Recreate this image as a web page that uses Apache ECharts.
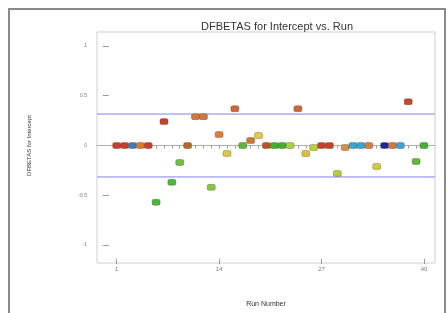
<!DOCTYPE html>
<html>
<head>
<meta charset="UTF-8">
<title>DFBETAS for Intercept vs. Run</title>
<script src="https://cdn.jsdelivr.net/npm/echarts@6/dist/echarts.min.js"></script>
<style>
  html, body { margin: 0; padding: 0; background: #fff; }
  #main { width: 448px; height: 313px; }
</style>
</head>
<body>
<div id="main"></div>
<script>
// run numbers
var runs = [1, 2, 3, 4, 5, 6, 7, 8, 9, 10, 11, 12, 13, 14, 15, 16, 17, 18, 19, 20,
            21, 22, 23, 24, 25, 26, 27, 28, 29, 30, 31, 32, 33, 34, 35, 36, 37, 38, 39, 40];
// DFBETAS for intercept
var dfbetas = [0, 0, 0, 0, 0, -0.57, 0.24, -0.37, -0.17, 0,
               0.29, 0.29, -0.42, 0.11, -0.08, 0.37, 0, 0.05, 0.10, 0,
               0, 0, 0, 0.37, -0.08, -0.02, 0, 0, -0.28, -0.02,
               0, 0, 0, -0.21, 0, 0, 0, 0.44, -0.16, 0];
// point colours (by factor level)
var pointColors = ['#c8402c', '#c8402c', '#3a7ec0', '#d87a30', '#c8402c', '#4cb83a', '#c8402c', '#4cb83a', '#70c040', '#b8662c',
                   '#d0783a', '#d0783a', '#80c848', '#d8803a', '#d8c848', '#c86a3a', '#58b838', '#c87838', '#e0c848', '#b8502a',
                   '#40b030', '#40b030', '#a8d040', '#c86a3a', '#d8c040', '#b8d040', '#c8402a', '#c8402a', '#b8c840', '#d09048',
                   '#30a8d8', '#30a8d8', '#d08040', '#d0c840', '#1a2898', '#d07a40', '#40a0e0', '#c04a30', '#60b840', '#48b038'];
var xTickLabels = [1, 14, 27, 40];
var yTickLabels = [-1, -0.5, 0, 0.5, 1];
var limit = 0.316;
var xMin = -1.5, xMax = 41.4;

var chart = echarts.init(document.getElementById('main'));

var points = [];
for (var i = 0; i < runs.length; i++) {
    points.push({ value: [runs[i], dfbetas[i]], itemStyle: { color: pointColors[i], opacity: 1 } });
}

// horizontal reference line across the whole x range
function refLine(y, color) {
    return {
        type: 'line', silent: true, symbol: 'none', z: 1,
        lineStyle: { color: color, width: 1, opacity: 1 },
        itemStyle: { color: color },
        data: [[xMin, y], [xMax, y]]
    };
}

var option = {
    animation: false,
    backgroundColor: '#fff',
    title: {
        text: 'DFBETAS for Intercept vs. Run',
        left: 272, top: 16, textAlign: 'center',
        textStyle: { fontFamily: 'Liberation Sans', fontSize: 11, fontWeight: 'normal', color: '#333' }
    },
    graphic: [
        { type: 'rect', shape: { x: 9, y: 9, width: 436, height: 310 },
          style: { fill: 'none', stroke: '#8a8a8a', lineWidth: 2 }, silent: true },
        { type: 'rect', shape: { x: 97, y: 32, width: 338, height: 231 },
          style: { fill: 'none', stroke: '#cfcfcf', lineWidth: 1 }, silent: true, z: -1 }
    ],
    grid: { left: 97, right: 13, top: 32, bottom: 50 },
    xAxis: [{
        type: 'value', min: xMin, max: xMax,
        name: 'Run Number', nameLocation: 'middle', nameGap: 42,
        nameTextStyle: { fontFamily: 'Liberation Sans', fontSize: 7, color: '#333' },
        axisLine: { lineStyle: { color: '#999' } },
        axisTick: { show: true, length: 3, lineStyle: { color: '#999' }, customValues: runs },
        axisLabel: { fontFamily: 'Liberation Sans', fontSize: 6, color: '#777', margin: 7, customValues: xTickLabels },
        splitLine: { show: false }
    }, {
        type: 'value', min: xMin, max: xMax, position: 'bottom',
        axisLine: { show: false },
        axisTick: { show: true, length: 5, lineStyle: { color: '#999' }, customValues: xTickLabels },
        axisLabel: { show: false },
        splitLine: { show: false }
    }],
    yAxis: {
        type: 'value', min: -1.14, max: 1.14,
        name: 'DFBETAS for Intercept', nameLocation: 'middle', nameGap: 65, nameRotate: 90,
        nameTextStyle: { fontFamily: 'Liberation Sans', fontSize: 6, color: '#333' },
        axisLine: { show: false },
        axisTick: { show: true, length: 6, lineStyle: { color: '#999' }, customValues: yTickLabels },
        axisLabel: { fontFamily: 'Liberation Sans', fontSize: 5, color: '#777', margin: 10, customValues: yTickLabels },
        splitLine: { show: false }
    },
    series: [
        refLine(0, '#b0b0b0'),
        refLine(limit, '#8080f0'),
        refLine(-limit, '#8080f0'),
        {
            type: 'scatter',
            symbol: 'roundRect',
            symbolSize: [8, 6],
            itemStyle: { borderColor: 'rgba(90,50,20,0.5)', borderWidth: 0.6, opacity: 1 },
            data: points,
            z: 3
        }
    ]
};

chart.setOption(option);
</script>
</body>
</html>
